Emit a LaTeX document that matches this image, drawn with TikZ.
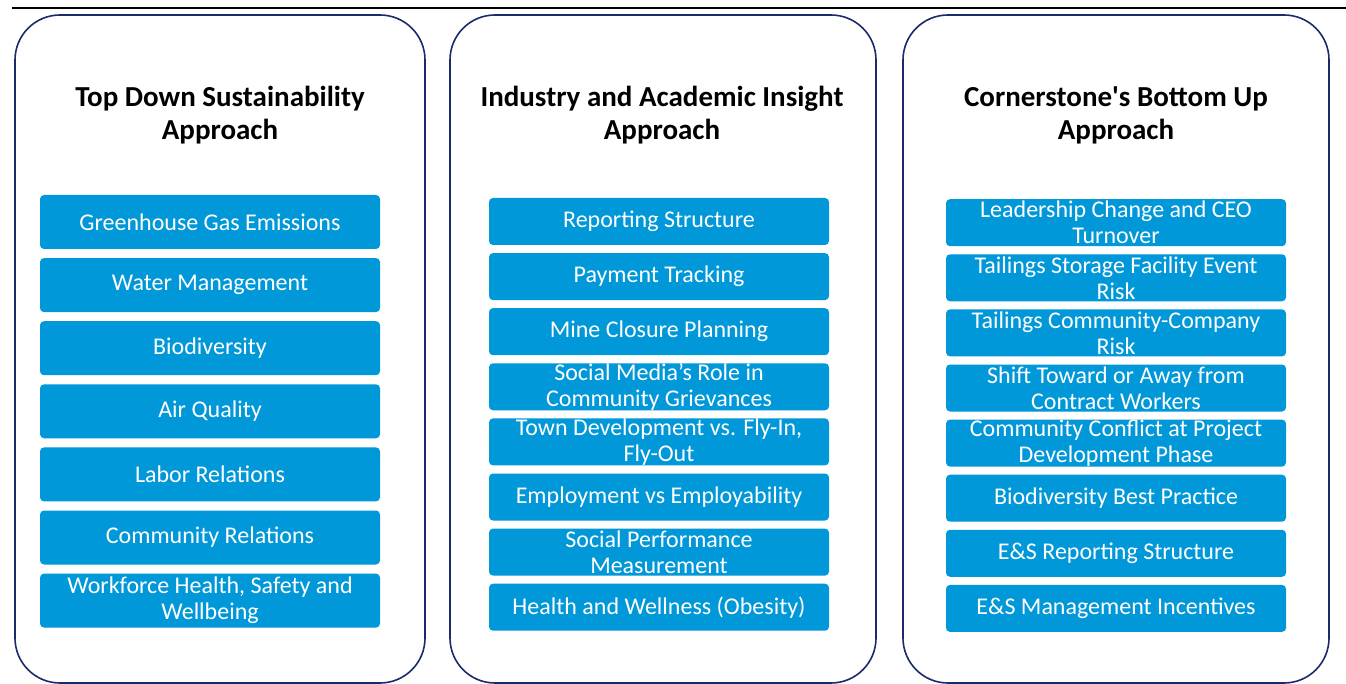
\documentclass[tikz,border=0pt]{standalone}
\usepackage{fontspec}
\setmainfont{Carlito}[Ligatures=TeXOff]
\definecolor{panelline}{HTML}{1B2A6B}
\definecolor{itemblue}{HTML}{0098D8}
\begin{document}
\begin{tikzpicture}[x=1pt,y=-1pt,
  panel/.style={draw=panelline,line width=1.6pt,rounded corners=45pt,fill=white},
  heading/.style={font=\fontsize{29}{33}\selectfont\bfseries,align=center,text=black,inner sep=0pt},
  item/.style={fill=itemblue,draw=none,rounded corners=4pt,text=white,align=center,
    font=\fontsize{24}{26}\selectfont,minimum width=340pt,inner sep=0pt},
  itemA/.style={item,minimum height=54pt},
  itemB/.style={item,minimum height=47pt}]
\useasboundingbox (0,0) rectangle (1346,684);
% rule across the top
\draw[line width=2.2pt] (12,8) -- (1346,8);
% three panels
\draw[panel] (15,15) rectangle (425,683);
\draw[panel] (450,15) rectangle (876,683);
\draw[panel] (903,15) rectangle (1329,683);
% headings
\node[heading] (h1) at (220,115.5) {Top Down Sustainability\\Approach};
\node[heading] (h2) at (662,115.5) {Industry and Academic Insight\\Approach};
\node[heading] (h3) at (1116,115.5) {Cornerstone's Bottom Up\\Approach};
% first column
\node[itemA] (a1) at (210,222) {Greenhouse Gas Emissions};
\node[itemA] (a2) at (210,285.1) {Water Management};
\node[itemA] (a3) at (210,348.2) {Biodiversity};
\node[itemA] (a4) at (210,411.3) {Air Quality};
\node[itemA] (a5) at (210,474.4) {Labor Relations};
\node[itemA] (a6) at (210,537.5) {Community Relations};
\node[itemA] (a7) at (210,600.6) {Workforce Health, Safety and\\Wellbeing};
% second column
\node[itemB] (b1) at (659,221.5) {Reporting Structure};
\node[itemB] (b2) at (659,276.6) {Payment Tracking};
\node[itemB] (b3) at (659,331.7) {Mine Closure Planning};
\node[itemB] (b4) at (659,386.8) {Social Media’s Role in\\Community Grievances};
\node[itemB] (b5) at (659,441.9) {Town Development vs. Fly-In,\\Fly-Out};
\node[itemB] (b6) at (659,497.0) {Employment vs Employability};
\node[itemB] (b7) at (659,552.1) {Social Performance\\Measurement};
\node[itemB] (b8) at (659,607.2) {Health and Wellness (Obesity)};
% third column
\node[itemB] (c1) at (1116,222.7) {Leadership Change and CEO\\Turnover};
\node[itemB] (c2) at (1116,277.8) {Tailings Storage Facility Event\\Risk};
\node[itemB] (c3) at (1116,332.9) {Tailings Community-Company\\Risk};
\node[itemB] (c4) at (1116,388.0) {Shift Toward or Away from\\Contract Workers};
\node[itemB] (c5) at (1116,443.1) {Community Conflict at Project\\Development Phase};
\node[itemB] (c6) at (1116,498.2) {Biodiversity Best Practice};
\node[itemB] (c7) at (1116,553.3) {E\&S Reporting Structure};
\node[itemB] (c8) at (1116,608.4) {E\&S Management Incentives};
\end{tikzpicture}
\end{document}
